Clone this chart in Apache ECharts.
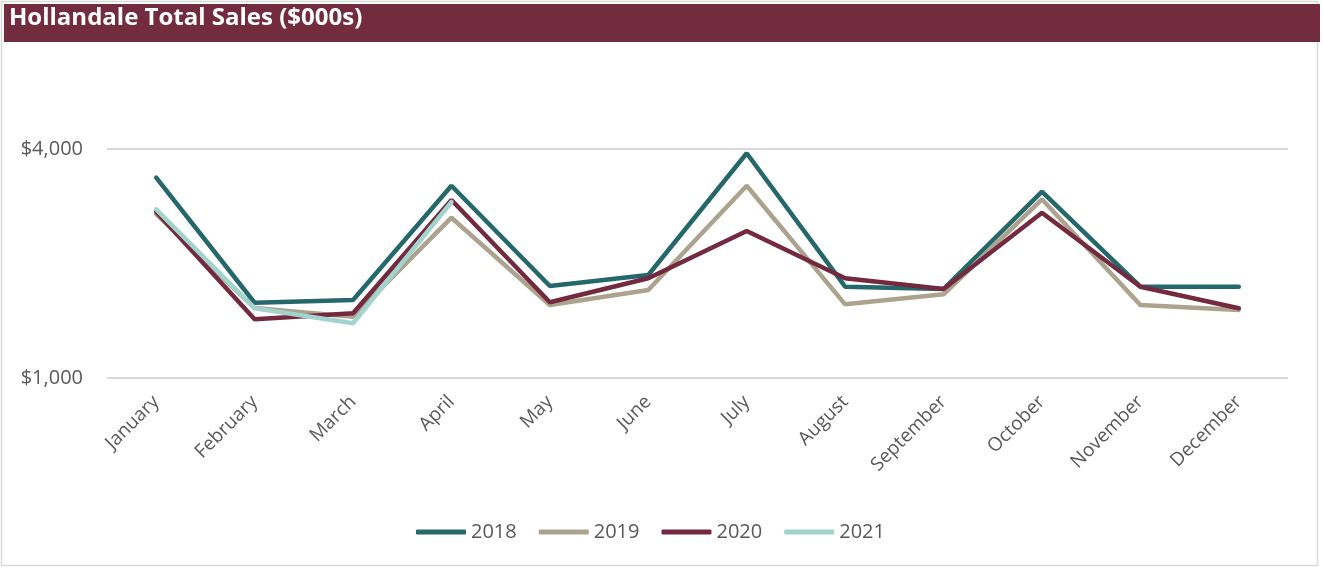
<!DOCTYPE html>
<html>
<head>
<meta charset="utf-8">
<script src="https://cdn.jsdelivr.net/npm/echarts@6/dist/echarts.min.js"></script>
<style>html,body{margin:0;padding:0;background:#fff;}#c{width:1323px;height:568px;}</style>
</head>
<body>
<div id="c"></div>
<script>
var months = ['January','February','March','April','May','June','July','August','September','October','November','December'];
var s2018 = [3624, 1986, 2022, 3519, 2205, 2349, 3944, 2196, 2166, 3441, 2196, 2196];
var s2019 = [3148, 1917, 1803, 3100, 1956, 2153, 3519, 1965, 2096, 3341, 1956, 1891];
var s2020 = [3179, 1769, 1848, 3332, 1992, 2306, 2926, 2306, 2166, 3165, 2196, 1913];
var s2021 = [3210, 1913, 1717, 3306];
var yTicks = [1000, 4000];

var colors = ['#25686C', '#ABA38D', '#732A3E', '#A2D4CD'];
var chart = echarts.init(document.getElementById('c'));
function mk(name, data, c) {
  return { name: name, type: 'line', data: data, symbol: 'none', smooth: false,
    lineStyle: { width: 4.5, color: c, cap: 'round' }, itemStyle: { color: c } };
}
chart.setOption({
  animation: false,
  textStyle: { fontFamily: 'Open Sans' },
  graphic: [
    { type: 'rect', shape: { x: 1.5, y: 1.5, width: 1316, height: 564 }, style: { fill: 'none', stroke: '#D9D9D9', lineWidth: 1.5 }, silent: true },
    { type: 'rect', shape: { x: 4, y: 4, width: 1316, height: 38 }, style: { fill: '#722B3F' }, silent: true },
    { type: 'text', left: 9, top: 6, style: { text: 'Hollandale Total Sales ($000s)', fill: '#ffffff', font: 'bold 24px "Open Sans"' } }
  ],
  legend: {
    top: 517, left: 411, icon: 'roundRect', itemWidth: 50, itemHeight: 5, itemGap: 22,
    textStyle: { fontSize: 20, color: '#595959', fontFamily: 'Open Sans' },
    data: ['2018', '2019', '2020', '2021']
  },
  grid: { left: 107, right: 35, top: 149, bottom: 190, containLabel: false },
  xAxis: {
    type: 'category', data: months, boundaryGap: true,
    axisLine: { show: false }, axisTick: { show: false },
    axisLabel: { rotate: 45, fontSize: 19, color: '#595959', margin: 21, interval: 0 }
  },
  yAxis: {
    type: 'value', min: yTicks[0], max: yTicks[1], interval: yTicks[1] - yTicks[0],
    axisLine: { show: false }, axisTick: { show: false },
    axisLabel: { fontSize: 20, color: '#595959', margin: 24,
      formatter: function (v) { return '$' + v.toLocaleString('en-US'); } },
    splitLine: { lineStyle: { color: '#D9D9D9', width: 2 } }
  },
  series: [mk('2018', s2018, colors[0]), mk('2019', s2019, colors[1]), mk('2020', s2020, colors[2]), mk('2021', s2021, colors[3])]
});
</script>
</body>
</html>
